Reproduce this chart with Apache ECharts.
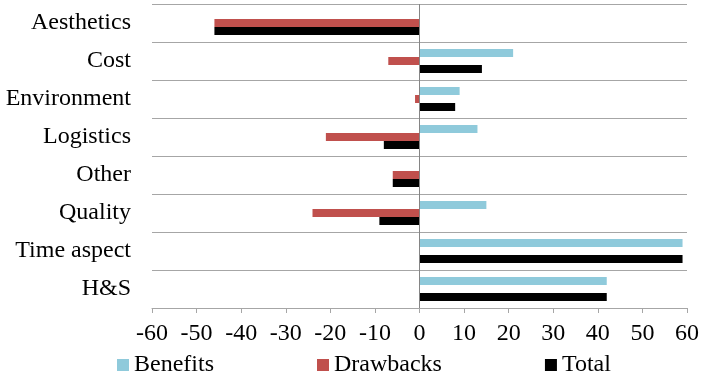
<!DOCTYPE html>
<html>
<head>
<meta charset="utf-8">
<script src="https://cdn.jsdelivr.net/npm/echarts@6/dist/echarts.min.js"></script>
<style>
  html, body { margin: 0; padding: 0; background: #fff; }
  #chart { width: 702px; height: 375px; }
</style>
</head>
<body>
<div id="chart"></div>
<script>
// Categories, top to bottom
const categories = ['Aesthetics', 'Cost', 'Environment', 'Logistics', 'Other', 'Quality', 'Time aspect', 'H&S'];
// Series values per category
const benefits  = [0, 21, 9, 13, 0, 15, 59, 42];
const drawbacks = [-46, -7, -1, -21, -6, -24, 0, 0];
const total     = [-46, 14, 8, -8, -6, -9, 59, 42];
// Value axis range
const axisMin = -60, axisMax = 60, axisStep = 10;

const FONT = '"Liberation Serif", "Times New Roman", serif';
const GRID_GREY = '#a6a6a6';

const chart = echarts.init(document.getElementById('chart'), null, { renderer: 'canvas' });

function bar(name, data, color) {
  return {
    name: name,
    type: 'bar',
    data: data,
    barWidth: 8,
    barGap: '0%',
    itemStyle: { color: color },
    silent: true,
    animation: false
  };
}

const series = [
  bar('Benefits', benefits, '#8fcadb'),
  bar('Drawbacks', drawbacks, '#c0504d'),
  bar('Total', total, '#000000')
];
// Vertical reference line at zero
series[0].markLine = {
  silent: true,
  symbol: ['none', 'none'],
  label: { show: false },
  lineStyle: { color: '#858585', width: 1, type: 'solid' },
  data: [{ xAxis: 0 }],
  animation: false
};

chart.setOption({
  animation: false,
  grid: { left: 152, right: 13, top: 4, bottom: 67, containLabel: false },
  legend: {
    data: ['Benefits', 'Drawbacks', 'Total'],
    left: 112,
    top: 348,
    icon: 'rect',
    itemWidth: 12,
    itemHeight: 12,
    itemGap: 103,
    textStyle: { fontFamily: FONT, fontSize: 24, color: '#000' },
    selectedMode: false
  },
  xAxis: {
    type: 'value',
    min: axisMin,
    max: axisMax,
    interval: axisStep,
    axisLine: { show: true, onZero: false, lineStyle: { color: GRID_GREY, width: 1 } },
    axisTick: { show: true, length: 5, lineStyle: { color: GRID_GREY } },
    axisLabel: { fontFamily: FONT, fontSize: 24, color: '#000', margin: 14 },
    splitLine: { show: false }
  },
  yAxis: {
    type: 'category',
    data: categories,
    inverse: true,
    axisLine: { show: false },
    axisTick: { show: false },
    axisLabel: { fontFamily: FONT, fontSize: 24, color: '#000', margin: 21 },
    splitLine: { show: true, lineStyle: { color: GRID_GREY, width: 1 } }
  },
  series: series
});
</script>
</body>
</html>
